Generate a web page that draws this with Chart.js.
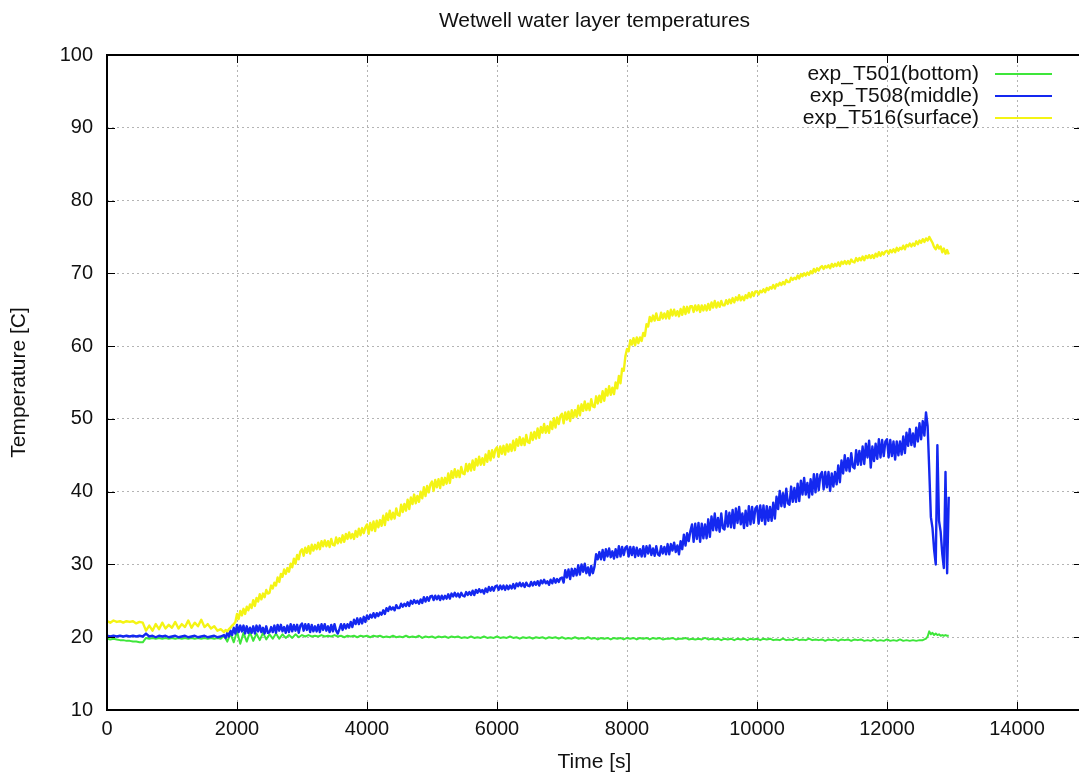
<!DOCTYPE html>
<html>
<head>
<meta charset="utf-8">
<title>Wetwell water layer temperatures</title>
<script src="https://cdn.jsdelivr.net/npm/chart.js@4.4.0/dist/chart.umd.min.js"></script>
<style>
    html, body { margin: 0; padding: 0; background: #fff; overflow: hidden; }
    #wrap { position: relative; width: 1100px; height: 778px; }
</style>
</head>
<body>
<div id="wrap"><canvas id="tempChart" width="1100" height="778"></canvas></div>
<script>
// Sample times [s] for the bottom sensor: 50 s steps, 25 s over the final transient
const timeCoarse = [
    0, 50, 100, 150, 200, 250, 300, 350, 400, 450, 500, 550, 600, 650, 700, 750, 800, 850, 900, 950,
    1000, 1050, 1100, 1150, 1200, 1250, 1300, 1350, 1400, 1450, 1500, 1550, 1600, 1650, 1700, 1750, 1800, 1850, 1900, 1950,
    2000, 2050, 2100, 2150, 2200, 2250, 2300, 2350, 2400, 2450, 2500, 2550, 2600, 2650, 2700, 2750, 2800, 2850, 2900, 2950,
    3000, 3050, 3100, 3150, 3200, 3250, 3300, 3350, 3400, 3450, 3500, 3550, 3600, 3650, 3700, 3750, 3800, 3850, 3900, 3950,
    4000, 4050, 4100, 4150, 4200, 4250, 4300, 4350, 4400, 4450, 4500, 4550, 4600, 4650, 4700, 4750, 4800, 4850, 4900, 4950,
    5000, 5050, 5100, 5150, 5200, 5250, 5300, 5350, 5400, 5450, 5500, 5550, 5600, 5650, 5700, 5750, 5800, 5850, 5900, 5950,
    6000, 6050, 6100, 6150, 6200, 6250, 6300, 6350, 6400, 6450, 6500, 6550, 6600, 6650, 6700, 6750, 6800, 6850, 6900, 6950,
    7000, 7050, 7100, 7150, 7200, 7250, 7300, 7350, 7400, 7450, 7500, 7550, 7600, 7650, 7700, 7750, 7800, 7850, 7900, 7950,
    8000, 8050, 8100, 8150, 8200, 8250, 8300, 8350, 8400, 8450, 8500, 8550, 8600, 8650, 8700, 8750, 8800, 8850, 8900, 8950,
    9000, 9050, 9100, 9150, 9200, 9250, 9300, 9350, 9400, 9450, 9500, 9550, 9600, 9650, 9700, 9750, 9800, 9850, 9900, 9950,
    10000, 10050, 10100, 10150, 10200, 10250, 10300, 10350, 10400, 10450, 10500, 10550, 10600, 10650, 10700, 10750, 10800, 10850, 10900, 10950,
    11000, 11050, 11100, 11150, 11200, 11250, 11300, 11350, 11400, 11450, 11500, 11550, 11600, 11650, 11700, 11750, 11800, 11850, 11900, 11950,
    12000, 12050, 12100, 12150, 12200, 12250, 12300, 12350, 12400, 12450, 12500, 12550, 12600,
    12625, 12650, 12675, 12700, 12725, 12750, 12775, 12800, 12825, 12850, 12875, 12900, 12925, 12950
];

// Sample times [s] for the middle and surface sensors: 50 s steps, 25 s from 1800 s on
const timeFine = [
    0, 50, 100, 150, 200, 250, 300, 350, 400, 450, 500, 550, 600, 650, 700, 750, 800, 850, 900, 950,
    1000, 1050, 1100, 1150, 1200, 1250, 1300, 1350, 1400, 1450, 1500, 1550, 1600, 1650, 1700, 1750,
    1800, 1825, 1850, 1875, 1900, 1925, 1950, 1975,
    2000, 2025, 2050, 2075, 2100, 2125, 2150, 2175, 2200, 2225, 2250, 2275, 2300, 2325, 2350, 2375, 2400, 2425, 2450, 2475,
    2500, 2525, 2550, 2575, 2600, 2625, 2650, 2675, 2700, 2725, 2750, 2775, 2800, 2825, 2850, 2875, 2900, 2925, 2950, 2975,
    3000, 3025, 3050, 3075, 3100, 3125, 3150, 3175, 3200, 3225, 3250, 3275, 3300, 3325, 3350, 3375, 3400, 3425, 3450, 3475,
    3500, 3525, 3550, 3575, 3600, 3625, 3650, 3675, 3700, 3725, 3750, 3775, 3800, 3825, 3850, 3875, 3900, 3925, 3950, 3975,
    4000, 4025, 4050, 4075, 4100, 4125, 4150, 4175, 4200, 4225, 4250, 4275, 4300, 4325, 4350, 4375, 4400, 4425, 4450, 4475,
    4500, 4525, 4550, 4575, 4600, 4625, 4650, 4675, 4700, 4725, 4750, 4775, 4800, 4825, 4850, 4875, 4900, 4925, 4950, 4975,
    5000, 5025, 5050, 5075, 5100, 5125, 5150, 5175, 5200, 5225, 5250, 5275, 5300, 5325, 5350, 5375, 5400, 5425, 5450, 5475,
    5500, 5525, 5550, 5575, 5600, 5625, 5650, 5675, 5700, 5725, 5750, 5775, 5800, 5825, 5850, 5875, 5900, 5925, 5950, 5975,
    6000, 6025, 6050, 6075, 6100, 6125, 6150, 6175, 6200, 6225, 6250, 6275, 6300, 6325, 6350, 6375, 6400, 6425, 6450, 6475,
    6500, 6525, 6550, 6575, 6600, 6625, 6650, 6675, 6700, 6725, 6750, 6775, 6800, 6825, 6850, 6875, 6900, 6925, 6950, 6975,
    7000, 7025, 7050, 7075, 7100, 7125, 7150, 7175, 7200, 7225, 7250, 7275, 7300, 7325, 7350, 7375, 7400, 7425, 7450, 7475,
    7500, 7525, 7550, 7575, 7600, 7625, 7650, 7675, 7700, 7725, 7750, 7775, 7800, 7825, 7850, 7875, 7900, 7925, 7950, 7975,
    8000, 8025, 8050, 8075, 8100, 8125, 8150, 8175, 8200, 8225, 8250, 8275, 8300, 8325, 8350, 8375, 8400, 8425, 8450, 8475,
    8500, 8525, 8550, 8575, 8600, 8625, 8650, 8675, 8700, 8725, 8750, 8775, 8800, 8825, 8850, 8875, 8900, 8925, 8950, 8975,
    9000, 9025, 9050, 9075, 9100, 9125, 9150, 9175, 9200, 9225, 9250, 9275, 9300, 9325, 9350, 9375, 9400, 9425, 9450, 9475,
    9500, 9525, 9550, 9575, 9600, 9625, 9650, 9675, 9700, 9725, 9750, 9775, 9800, 9825, 9850, 9875, 9900, 9925, 9950, 9975,
    10000, 10025, 10050, 10075, 10100, 10125, 10150, 10175, 10200, 10225, 10250, 10275, 10300, 10325, 10350, 10375, 10400, 10425, 10450, 10475,
    10500, 10525, 10550, 10575, 10600, 10625, 10650, 10675, 10700, 10725, 10750, 10775, 10800, 10825, 10850, 10875, 10900, 10925, 10950, 10975,
    11000, 11025, 11050, 11075, 11100, 11125, 11150, 11175, 11200, 11225, 11250, 11275, 11300, 11325, 11350, 11375, 11400, 11425, 11450, 11475,
    11500, 11525, 11550, 11575, 11600, 11625, 11650, 11675, 11700, 11725, 11750, 11775, 11800, 11825, 11850, 11875, 11900, 11925, 11950, 11975,
    12000, 12025, 12050, 12075, 12100, 12125, 12150, 12175, 12200, 12225, 12250, 12275, 12300, 12325, 12350, 12375, 12400, 12425, 12450, 12475,
    12500, 12525, 12550, 12575,
    12600, 12625, 12650, 12675, 12700, 12725, 12750, 12775, 12800, 12825, 12850, 12875, 12900, 12925, 12950
];

// exp_T501 - bottom layer [C], on timeCoarse
const tBottom = [
    19.8, 19.7, 19.8, 19.7, 19.6, 19.6, 19.5, 19.5, 19.4, 19.4, 19.3, 19.3, 19.9, 19.8, 19.9, 19.8, 19.9, 19.8, 19.9, 19.8,
    19.9, 19.8, 19.9, 19.8, 19.9, 19.8, 19.9, 19.8, 19.9, 19.8, 19.9, 19.8, 19.9, 19.8, 19.9, 19.8, 20.2, 19.4, 20.5, 19.3,
    20.8, 19.1, 20.6, 19.4, 20.7, 19.5, 20.5, 19.6, 20.6, 19.7, 20.4, 19.8, 20.5, 19.8, 20.4, 19.9, 20.3, 19.9, 20.4, 20.0,
    20.3, 20.1, 20.3, 20.1, 20.2, 20.1, 20.3, 20.1, 20.2, 20.1, 20.3, 20.1, 20.2, 20.0, 20.2, 20.1, 20.2, 20.0, 20.2, 20.1,
    20.2, 20.0, 20.2, 20.1, 20.2, 20.0, 20.1, 20.0, 20.2, 20.0, 20.1, 20.0, 20.2, 20.0, 20.1, 20.0, 20.2, 19.9, 20.1, 20.0,
    20.1, 19.9, 20.1, 20.0, 20.1, 19.9, 20.1, 20.0, 20.1, 19.9, 20.0, 19.9, 20.1, 19.9, 20.0, 19.9, 20.1, 19.9, 20.0, 19.9,
    20.1, 19.9, 20.0, 19.9, 20.1, 19.9, 20.0, 19.8, 20.0, 19.9, 20.0, 19.8, 20.0, 19.9, 20.0, 19.8, 20.0, 19.9, 20.0, 19.8,
    20.0, 19.8, 19.9, 19.8, 20.0, 19.8, 19.9, 19.8, 20.0, 19.8, 19.9, 19.7, 19.9, 19.8, 19.9, 19.7, 19.9, 19.8, 19.9, 19.7,
    19.9, 19.8, 19.9, 19.7, 19.9, 19.8, 19.9, 19.7, 19.9, 19.8, 19.9, 19.7, 19.8, 19.8, 19.9, 19.7, 19.8, 19.8, 19.9, 19.7,
    19.8, 19.7, 19.8, 19.7, 19.9, 19.7, 19.8, 19.7, 19.8, 19.6, 19.8, 19.7, 19.8, 19.6, 19.8, 19.7, 19.8, 19.6, 19.8, 19.7,
    19.8, 19.6, 19.8, 19.7, 19.8, 19.6, 19.7, 19.6, 19.8, 19.6, 19.7, 19.6, 19.8, 19.6, 19.7, 19.6, 19.8, 19.6, 19.7, 19.6,
    19.7, 19.5, 19.7, 19.6, 19.7, 19.5, 19.7, 19.6, 19.7, 19.5, 19.7, 19.6, 19.7, 19.5, 19.6, 19.5, 19.7, 19.5, 19.6, 19.5,
    19.7, 19.5, 19.6, 19.5, 19.7, 19.5, 19.6, 19.5, 19.6, 19.5, 19.6, 19.6, 19.8,
    20.1, 20.8, 20.4, 20.6, 20.3, 20.5, 20.3, 20.4, 20.2, 20.3, 20.2, 20.3, 20.2, 20.2
];

// exp_T508 - middle layer [C], on timeFine
const tMiddle = [
    20.2, 20.1, 20.2, 20.1, 20.2, 20.1, 20.2, 20.1, 20.2, 20.1, 20.2, 20.1, 20.5, 20.1, 20.2, 20.0, 20.2, 20.1, 20.2, 20.0,
    20.1, 20.2, 20.0, 20.1, 20.2, 20.0, 20.1, 20.2, 20.0, 20.1, 20.2, 20.0, 20.1, 20.2, 20.0, 20.1,
    20.3, 19.9, 20.6, 20.1, 20.9, 20.3, 21.3, 20.5,
    21.7, 20.7, 21.6, 20.8, 21.6, 20.5, 21.5, 20.6, 21.3, 20.6, 21.5, 20.5, 21.6, 20.8, 21.6, 20.7, 21.3, 20.5, 21.5, 20.6,
    20.7, 21.4, 20.7, 21.6, 20.6, 21.7, 20.9, 21.7, 20.8, 21.4, 20.6, 21.6, 20.7, 21.8, 20.8, 21.7, 20.9, 21.7, 20.6, 21.6,
    21.9, 20.9, 21.8, 21.0, 21.8, 20.7, 21.7, 20.8, 21.5, 20.8, 21.7, 20.7, 21.8, 21.0, 21.8, 20.9, 21.5, 20.7, 21.7, 20.8,
    21.8, 20.9, 20.5, 21.1, 21.8, 21.0, 21.8, 21.2, 21.8, 21.3, 22.1, 21.4, 22.4, 21.8, 22.6, 21.8, 22.6, 21.9, 22.8, 22.1,
    23.0, 22.5, 23.1, 22.7, 23.3, 22.7, 23.3, 22.9, 23.4, 23.1, 23.7, 23.2, 24.0, 23.6, 24.2, 23.8, 24.1, 23.7, 24.4, 24.0,
    24.0, 24.6, 24.2, 24.6, 24.3, 24.8, 24.3, 25.0, 24.6, 25.1, 24.7, 25.0, 24.6, 25.2, 24.7, 25.5, 24.9, 25.5, 25.0, 25.6,
    25.7, 25.1, 25.7, 25.2, 25.7, 25.1, 25.7, 25.2, 25.7, 25.3, 25.9, 25.3, 26.0, 25.6, 26.1, 25.6, 26.0, 25.5, 26.1, 25.7,
    25.6, 26.2, 25.8, 26.2, 25.8, 26.4, 25.8, 26.5, 26.1, 26.6, 26.2, 26.5, 26.0, 26.7, 26.2, 26.9, 26.4, 26.9, 26.4, 27.0,
    27.1, 26.5, 27.1, 26.6, 27.1, 26.5, 27.1, 26.6, 27.1, 26.7, 27.3, 26.7, 27.4, 27.0, 27.5, 27.0, 27.4, 26.9, 27.5, 27.1,
    27.0, 27.6, 27.1, 27.6, 27.2, 27.7, 27.1, 27.8, 27.4, 27.9, 27.4, 27.7, 27.2, 27.9, 27.4, 28.1, 27.5, 28.0, 27.6, 28.1,
    28.2, 27.5, 29.2, 28.2, 29.3, 28.0, 29.4, 28.4, 29.4, 28.5, 29.9, 28.6, 30.0, 29.0, 30.1, 28.8, 29.6, 28.5, 29.8, 28.8,
    29.7, 31.4, 30.7, 31.7, 30.7, 32.0, 30.6, 32.1, 31.1, 32.2, 31.0, 31.8, 30.8, 32.1, 31.0, 32.5, 31.1, 32.4, 31.3, 32.3,
    32.5, 31.1, 32.4, 31.3, 32.4, 31.0, 32.3, 31.2, 32.1, 31.1, 32.5, 31.1, 32.5, 31.5, 32.6, 31.3, 32.2, 31.2, 32.5, 31.4,
    31.2, 32.5, 31.5, 32.4, 31.4, 32.8, 31.4, 32.8, 31.9, 33.0, 31.7, 32.6, 31.4, 33.2, 32.1, 34.1, 32.6, 34.3, 33.2, 34.6,
    35.5, 33.1, 35.6, 33.5, 35.7, 33.1, 35.6, 33.6, 35.5, 33.6, 36.2, 33.8, 36.6, 34.7, 37.0, 34.7, 36.4, 34.5, 37.0, 35.0,
    34.8, 37.3, 35.2, 37.1, 35.1, 37.5, 35.0, 37.7, 35.7, 37.9, 35.5, 37.0, 35.0, 37.4, 35.3, 38.0, 35.5, 37.9, 35.7, 37.7,
    38.0, 35.6, 38.1, 36.0, 38.1, 35.5, 38.0, 36.0, 37.9, 36.0, 38.5, 36.3, 39.3, 37.6, 40.1, 38.0, 39.8, 37.9, 40.4, 38.4,
    38.2, 40.7, 38.6, 40.5, 38.6, 41.1, 38.7, 41.5, 39.6, 41.9, 39.6, 41.2, 39.2, 41.7, 39.6, 42.4, 39.9, 42.4, 40.2, 42.3,
    42.7, 40.3, 42.7, 40.6, 42.7, 40.1, 42.5, 40.7, 42.7, 41.0, 43.6, 41.3, 44.3, 42.5, 45.0, 42.9, 44.6, 42.8, 45.3, 43.4,
    43.2, 45.7, 43.7, 45.6, 43.7, 46.2, 43.8, 46.6, 44.7, 47.0, 43.3, 46.2, 44.2, 46.6, 44.5, 47.2, 44.7, 47.1, 44.9, 46.9,
    47.2, 44.7, 47.1, 44.9, 46.9, 44.4, 46.9, 45.0, 46.9, 45.1, 47.6, 45.3, 48.1, 46.3, 48.6, 46.4, 48.0, 46.2, 48.8, 46.9,
    49.4, 47.2, 49.7, 47.7,
    50.9, 49.0, 43.0, 36.5, 35.0, 32.0, 30.0, 46.4, 36.0, 34.5, 31.5, 29.5, 42.7, 28.8, 39.3
];

// exp_T516 - surface layer [C], on timeFine
const tSurface = [
    22.2, 22.0, 22.3, 22.1, 22.2, 22.0, 22.2, 22.1, 22.2, 21.9, 22.1, 22.0, 20.9, 21.6, 20.9, 21.8, 21.1, 22.0, 21.2, 21.7,
    21.3, 22.1, 21.2, 21.8, 21.4, 22.3, 21.3, 22.0, 21.5, 22.4, 21.4, 21.8, 21.2, 21.5, 20.9, 21.1,
    20.7, 21.0, 20.8, 21.1, 21.3, 21.6, 21.8, 22.1,
    23.2, 22.5, 23.6, 23.0, 23.9, 23.2, 24.2, 23.7, 24.5, 24.0, 25.1, 24.3, 25.4, 24.9, 25.9, 25.2, 26.0, 25.5, 26.5, 26.0,
    26.1, 27.1, 26.7, 27.5, 27.1, 28.2, 27.6, 28.7, 28.3, 29.3, 28.7, 29.5, 29.0, 30.1, 29.6, 30.8, 30.1, 31.3, 30.7, 31.8,
    32.1, 31.2, 32.3, 31.6, 32.5, 31.5, 32.7, 31.9, 32.7, 32.1, 33.0, 32.1, 33.2, 32.5, 33.3, 32.5, 33.2, 32.4, 33.5, 32.7,
    32.6, 33.7, 32.9, 33.6, 33.0, 34.0, 33.1, 34.2, 33.5, 34.4, 33.6, 34.2, 33.5, 34.6, 33.8, 34.9, 34.0, 35.0, 34.3, 35.1,
    35.5, 34.2, 35.7, 34.7, 35.9, 34.6, 36.0, 35.1, 36.1, 35.3, 36.7, 35.4, 37.0, 36.1, 37.4, 36.2, 37.1, 36.3, 37.7, 36.8,
    36.7, 38.2, 37.2, 38.3, 37.4, 38.9, 37.6, 39.2, 38.3, 39.6, 38.4, 39.4, 38.6, 40.0, 39.1, 40.6, 39.4, 40.8, 39.9, 41.0,
    41.4, 40.1, 41.6, 40.6, 41.7, 40.5, 41.9, 40.9, 41.9, 41.1, 42.5, 41.2, 42.8, 41.9, 43.1, 42.0, 42.9, 42.0, 43.4, 42.5,
    42.4, 43.8, 42.8, 43.8, 42.9, 44.3, 43.0, 44.5, 43.6, 44.8, 43.7, 44.6, 43.7, 45.1, 44.1, 45.6, 44.3, 45.7, 44.7, 45.8,
    46.1, 44.8, 46.2, 45.2, 46.3, 45.1, 46.5, 45.5, 46.5, 45.6, 47.0, 45.7, 47.2, 46.3, 47.5, 46.4, 47.3, 46.4, 47.8, 46.8,
    46.7, 48.1, 47.1, 48.2, 47.3, 48.7, 47.4, 48.9, 48.1, 49.3, 48.1, 49.0, 48.1, 49.6, 48.6, 50.1, 48.8, 50.2, 49.3, 50.4,
    50.7, 49.4, 50.9, 49.9, 51.0, 49.7, 51.2, 50.2, 51.2, 50.3, 51.8, 50.5, 52.0, 51.1, 52.4, 51.2, 52.1, 51.2, 52.7, 51.7,
    51.6, 53.1, 52.1, 53.2, 52.3, 53.8, 52.5, 54.1, 53.2, 54.5, 53.3, 54.3, 53.4, 55.0, 54.2, 55.9, 54.9, 56.9, 56.6, 58.6,
    59.6, 59.3, 60.8, 60.2, 61.1, 60.1, 61.2, 60.4, 61.2, 60.7, 61.8, 61.4, 63.0, 62.7, 64.0, 63.4, 64.2, 63.5, 64.5, 63.6,
    63.6, 64.6, 63.8, 64.5, 63.8, 64.8, 63.8, 65.0, 64.2, 65.0, 64.2, 64.8, 64.1, 65.1, 64.3, 65.4, 64.4, 65.4, 64.6, 65.5,
    65.5, 64.7, 65.6, 64.9, 65.6, 64.7, 65.6, 64.9, 65.6, 64.9, 65.8, 65.0, 66.0, 65.3, 66.2, 65.3, 66.0, 65.4, 66.2, 65.6,
    65.6, 66.3, 65.8, 66.4, 65.9, 66.6, 66.0, 66.7, 66.3, 67.0, 66.3, 66.8, 66.3, 67.0, 66.6, 67.3, 66.7, 67.4, 66.9, 67.5,
    67.5, 67.1, 67.6, 67.4, 67.8, 67.4, 68.0, 67.7, 68.1, 67.9, 68.4, 67.9, 68.5, 68.3, 68.7, 68.4, 68.8, 68.5, 69.1, 68.8,
    68.8, 69.4, 69.1, 69.4, 69.2, 69.7, 69.3, 69.9, 69.6, 70.0, 69.7, 70.1, 69.8, 70.3, 70.0, 70.6, 70.2, 70.7, 70.4, 70.8,
    71.0, 70.6, 71.0, 70.8, 71.1, 70.7, 71.3, 70.9, 71.3, 71.0, 71.5, 71.0, 71.6, 71.3, 71.7, 71.3, 71.7, 71.3, 71.9, 71.6,
    71.5, 72.1, 71.7, 72.1, 71.8, 72.3, 71.8, 72.4, 72.1, 72.5, 72.1, 72.5, 72.1, 72.7, 72.3, 72.9, 72.4, 72.9, 72.6, 73.0,
    73.1, 72.7, 73.2, 72.9, 73.3, 72.9, 73.5, 73.1, 73.5, 73.3, 73.8, 73.3, 73.9, 73.7, 74.1, 73.7, 74.1, 73.8, 74.4, 74.0,
    74.5, 74.2, 74.7, 74.3,
    74.8, 74.5, 75.0, 74.6, 74.2, 73.6, 73.3, 73.9, 73.4, 73.7, 72.9, 73.4, 72.7, 73.2, 72.6
];

const seriesLabels = ['exp_T501(bottom)', 'exp_T508(middle)', 'exp_T516(surface)'];
const xTickValues = [0, 2000, 4000, 6000, 8000, 10000, 12000, 14000];
const yTickValues = [10, 20, 30, 40, 50, 60, 70, 80, 90, 100];

const FONT = "'Liberation Sans', Arial, sans-serif";
const TEXT_COLOR = '#111';

const toPoints = (times, values) => values.map((v, i) => ({ x: times[i], y: v }));

// Title, axis titles, legend, border and inward tick marks
const decorPlugin = {
    id: 'decor',
    afterDatasetsDraw(chart) {
        const { ctx, chartArea: a, scales: { x, y } } = chart;
        ctx.save();
        ctx.strokeStyle = '#000';
        ctx.lineWidth = 1;
        ctx.beginPath();
        xTickValues.forEach(v => {
            const px = Math.round(x.getPixelForValue(v)) + 0.5;
            ctx.moveTo(px, a.bottom); ctx.lineTo(px, a.bottom - 8);
            ctx.moveTo(px, a.top); ctx.lineTo(px, a.top + 8);
        });
        yTickValues.forEach(v => {
            const py = Math.round(y.getPixelForValue(v)) + 0.5;
            ctx.moveTo(a.left, py); ctx.lineTo(a.left + 8, py);
            ctx.moveTo(a.right, py); ctx.lineTo(a.right - 8, py);
        });
        ctx.stroke();
        ctx.lineWidth = 2;
        ctx.strokeRect(a.left, a.top, a.right - a.left, a.bottom - a.top);
        ctx.restore();
    },
    afterDraw(chart) {
        const { ctx, chartArea: a } = chart;
        const cx = (a.left + a.right) / 2;
        ctx.save();
        ctx.fillStyle = TEXT_COLOR;
        ctx.font = `21px ${FONT}`;
        ctx.textAlign = 'center';
        ctx.textBaseline = 'middle';
        ctx.fillText('Wetwell water layer temperatures', cx, 21);
        ctx.fillText('Time [s]', cx, 762);

        ctx.save();
        ctx.translate(19, (a.top + a.bottom) / 2);
        ctx.rotate(-Math.PI / 2);
        ctx.fillText('Temperature [C]', 0, 0);
        ctx.restore();

        // key in the top right corner: label, then line sample
        ctx.textAlign = 'right';
        chart.data.datasets.forEach((ds, i) => {
            const ky = 74 + i * 22;
            ctx.fillStyle = TEXT_COLOR;
            ctx.fillText(ds.label, 979, ky);
            ctx.strokeStyle = ds.borderColor;
            ctx.lineWidth = 2;
            ctx.beginPath();
            ctx.moveTo(995, ky);
            ctx.lineTo(1052, ky);
            ctx.stroke();
        });
        ctx.restore();
    }
};

const lineStyle = (label, color, width, order, times, values) => ({
    label,
    data: toPoints(times, values),
    borderColor: color,
    borderWidth: width,
    borderJoinStyle: 'round',
    pointRadius: 0,
    tension: 0,
    fill: false,
    order
});

const tickFont = { family: FONT, size: 20 };

new Chart(document.getElementById('tempChart'), {
    type: 'line',
    data: {
        datasets: [
            lineStyle(seriesLabels[0], '#3ee63a', 2, 3, timeCoarse, tBottom),
            lineStyle(seriesLabels[1], '#1428f0', 2.4, 2, timeFine, tMiddle),
            lineStyle(seriesLabels[2], '#f4f414', 2.4, 1, timeFine, tSurface)
        ]
    },
    options: {
        responsive: false,
        animation: false,
        devicePixelRatio: 1,
        layout: { padding: { top: 55, right: 18, left: 0, bottom: 0 } },
        plugins: {
            legend: { display: false },
            title: { display: false },
            tooltip: { enabled: false }
        },
        scales: {
            x: {
                type: 'linear',
                min: 0,
                max: 15000,
                afterFit: (scale) => { scale.height = 68; },
                afterBuildTicks: (scale) => { scale.ticks = xTickValues.map(v => ({ value: v })); },
                grid: { color: '#b4b4b4', lineWidth: 1, drawTicks: false },
                border: { display: false, dash: [2, 3] },
                ticks: { color: TEXT_COLOR, font: tickFont, padding: 7, maxRotation: 0, callback: (v) => String(v) }
            },
            y: {
                type: 'linear',
                min: 10,
                max: 100,
                afterFit: (scale) => { scale.width = 107; },
                afterBuildTicks: (scale) => { scale.ticks = yTickValues.map(v => ({ value: v })); },
                grid: { color: '#b4b4b4', lineWidth: 1, drawTicks: false },
                border: { display: false, dash: [2, 3] },
                ticks: { color: TEXT_COLOR, font: tickFont, padding: 14, callback: (v) => String(v) }
            }
        }
    },
    plugins: [decorPlugin]
});
</script>
</body>
</html>
